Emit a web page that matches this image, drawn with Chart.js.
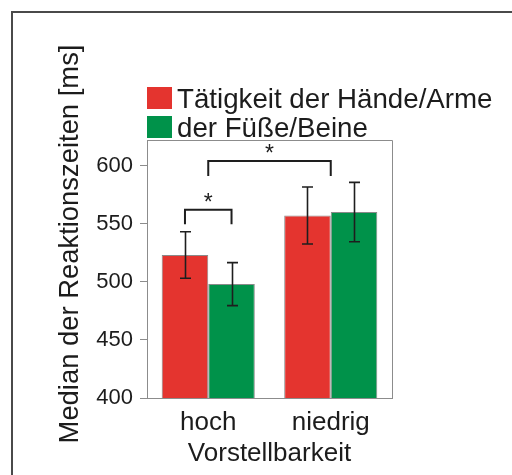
<!DOCTYPE html>
<html>
<head>
<meta charset="utf-8">
<script src="https://cdn.jsdelivr.net/npm/chart.js@4/dist/chart.umd.min.js"></script>
<style>
  html, body { margin: 0; padding: 0; background: #fff; overflow: hidden; }
  canvas { display: block; }
</style>
</head>
<body>
<canvas id="c" width="512" height="475"></canvas>
<script>
// Median reaction times (ms) by imageability of the movement
const categories = ['hoch', 'niedrig'];
const seriesLabels = ['Tätigkeit der Hände/Arme', 'der Füße/Beine'];
const handsArms = [523, 557];
const feetLegs = [498, 560];
const handsArmsErr = [20, 24.5];
const feetLegsErr = [18.5, 25.5];
const yTicks = [400, 450, 500, 550, 600];
const axisTitleY = 'Median der Reaktionszeiten [ms]';
const axisTitleX = 'Vorstellbarkeit';

// Significance markers: [category, dataset] endpoints (dataset null = whole group),
// bracket level and leg end in ms
const sigPairs = [
  { a: [0, 0], b: [0, 1], level: 562, legEnd: 549.5, mark: '*' },
  { a: [0, null], b: [1, null], level: 604, legEnd: 591, mark: '*' }
];

const RED = '#E4342F';
const GREEN = '#00924A';
const TEXT = '#1c1c1c';
const FONT = "'Liberation Sans', Arial, sans-serif";

// Page frame: top and left rules only
const framePlugin = {
  id: 'pageFrame',
  beforeDraw(chart) {
    const ctx = chart.ctx;
    ctx.save();
    ctx.fillStyle = '#ffffff';
    ctx.fillRect(0, 0, chart.width, chart.height);
    ctx.fillStyle = '#4a4a4a';
    ctx.fillRect(11, 11, chart.width - 11, 2);
    ctx.fillRect(11, 11, 2, chart.height - 11);
    ctx.restore();
  }
};

const errorsPlugin = {
  id: 'errorBars',
  afterDatasetsDraw(chart) {
    const ctx = chart.ctx;
    const y = chart.scales.y;
    const errs = [handsArmsErr, feetLegsErr];
    ctx.save();
    ctx.strokeStyle = '#1e1e1e';
    ctx.lineWidth = 1.6;
    chart.data.datasets.forEach((ds, di) => {
      const meta = chart.getDatasetMeta(di);
      meta.data.forEach((el, i) => {
        const v = ds.data[i], e = errs[di][i];
        const top = y.getPixelForValue(v + e), bot = y.getPixelForValue(v - e);
        const x = Math.round(el.x) + 0.5;
        ctx.beginPath();
        ctx.moveTo(x, top); ctx.lineTo(x, bot);
        ctx.moveTo(x - 5.5, top); ctx.lineTo(x + 5.5, top);
        ctx.moveTo(x - 5.5, bot); ctx.lineTo(x + 5.5, bot);
        ctx.stroke();
      });
    });
    ctx.restore();
  }
};

const bracketPlugin = {
  id: 'sigBrackets',
  afterDatasetsDraw(chart) {
    const ctx = chart.ctx;
    const y = chart.scales.y;
    const last = chart.data.datasets.length - 1;
    const px = ([cat, di]) => di === null
      ? (chart.getDatasetMeta(0).data[cat].x + chart.getDatasetMeta(last).data[cat].x) / 2
      : chart.getDatasetMeta(di).data[cat].x;
    ctx.save();
    ctx.strokeStyle = '#1e1e1e';
    ctx.lineWidth = 2;
    ctx.fillStyle = TEXT;
    ctx.font = "23px " + FONT;
    ctx.textAlign = 'center';
    ctx.textBaseline = 'alphabetic';
    sigPairs.forEach(p => {
      const x1 = px(p.a), x2 = px(p.b);
      const yl = y.getPixelForValue(p.level), ye = y.getPixelForValue(p.legEnd);
      ctx.beginPath();
      ctx.moveTo(x1, ye); ctx.lineTo(x1, yl); ctx.lineTo(x2, yl); ctx.lineTo(x2, ye);
      ctx.stroke();
      ctx.fillText(p.mark, (x1 + x2) / 2, yl);
    });
    ctx.restore();
  }
};

const boxPlugin = {
  id: 'plotBox',
  afterDraw(chart) {
    const { ctx, chartArea: a } = chart;
    ctx.save();
    ctx.strokeStyle = '#8c8c8c';
    ctx.lineWidth = 1;
    ctx.beginPath();
    ctx.moveTo(a.left, a.top + 0.5); ctx.lineTo(a.right + 0.5, a.top + 0.5); ctx.lineTo(a.right + 0.5, a.bottom);
    ctx.stroke();
    ctx.restore();
  }
};

// Legend swatches and the rotated value-axis title, placed above / beside the plot box
const legendPlugin = {
  id: 'boxLegend',
  afterDraw(chart) {
    const { ctx, chartArea: a } = chart;
    ctx.save();
    ctx.font = "27.7px " + FONT;
    ctx.textBaseline = 'alphabetic';
    ctx.textAlign = 'left';
    chart.data.datasets.forEach((ds, i) => {
      const top = 87 + i * 29;
      ctx.fillStyle = ds.backgroundColor;
      ctx.fillRect(a.left, top, 25, 22);
      ctx.fillStyle = TEXT;
      ctx.fillText(ds.label, a.left + 30, top + 21);
    });
    ctx.translate(78, 244);
    ctx.rotate(-Math.PI / 2);
    ctx.textAlign = 'center';
    ctx.font = "27.4px " + FONT;
    ctx.fillText(axisTitleY, 0, 0);
    ctx.restore();
  }
};

new Chart(document.getElementById('c'), {
  type: 'bar',
  data: {
    labels: categories,
    datasets: [
      { label: seriesLabels[0], data: handsArms, backgroundColor: RED, borderColor: '#8a8a8a', borderWidth: 1 },
      { label: seriesLabels[1], data: feetLegs, backgroundColor: GREEN, borderColor: '#8a8a8a', borderWidth: 1 }
    ]
  },
  options: {
    responsive: false,
    animation: false,
    devicePixelRatio: 1,
    layout: { padding: { left: 53, right: 120, top: 140, bottom: 0 } },
    datasets: { bar: { categoryPercentage: 0.76, barPercentage: 1.0 } },
    plugins: { legend: { display: false }, tooltip: { enabled: false } },
    scales: {
      x: {
        grid: { display: false, drawTicks: false },
        border: { display: true, color: '#8c8c8c' },
        ticks: { color: TEXT, font: { family: FONT, size: 26 }, padding: 9 },
        title: { display: true, text: axisTitleX, color: TEXT, font: { family: FONT, size: 26 }, padding: { top: 0, bottom: 6 } },
        afterFit(s) { s.height = 77; }
      },
      y: {
        min: 400,
        max: 622,
        grid: { drawOnChartArea: false, drawTicks: true, tickLength: 7, color: '#8c8c8c' },
        border: { display: true, color: '#8c8c8c' },
        ticks: { stepSize: 50, includeBounds: false, color: TEXT, font: { family: FONT, size: 22 }, padding: 7 },
        afterBuildTicks(s) { s.ticks = yTicks.map(v => ({ value: v })); },
        title: { display: false },
        afterFit(s) { s.width = 94; }
      }
    }
  },
  plugins: [framePlugin, errorsPlugin, bracketPlugin, boxPlugin, legendPlugin]
});
</script>
</body>
</html>
